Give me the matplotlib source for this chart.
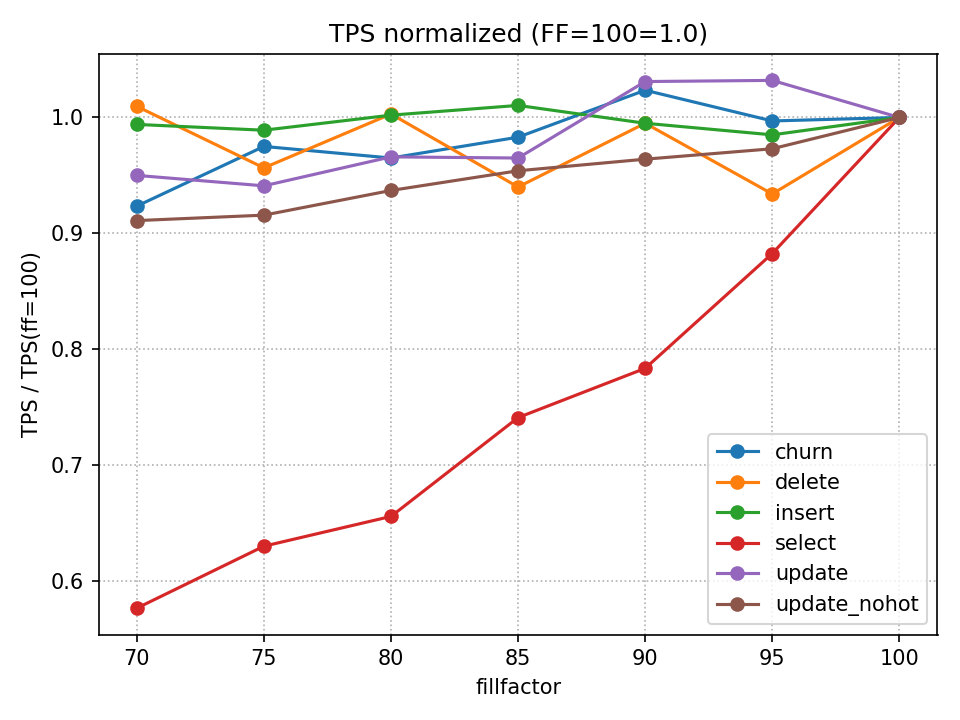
import matplotlib
matplotlib.use('Agg')
import matplotlib.pyplot as plt

fillfactor = [70, 75, 80, 85, 90, 95, 100]

churn = [0.9235, 0.975, 0.965, 0.983, 1.0235, 0.997, 1.0]
delete = [1.0096, 0.9565, 1.003, 0.940, 0.995, 0.934, 1.0]
insert = [0.994, 0.989, 1.002, 1.0104, 0.995, 0.985, 1.0]
select = [0.5765, 0.630, 0.6557, 0.741, 0.7835, 0.8826, 1.0]
update = [0.950, 0.941, 0.966, 0.965, 1.031, 1.032, 1.0]
update_nohot = [0.911, 0.9157, 0.937, 0.954, 0.964, 0.973, 1.0]

series = [
    ('churn', churn),
    ('delete', delete),
    ('insert', insert),
    ('select', select),
    ('update', update),
    ('update_nohot', update_nohot),
]

fig, ax = plt.subplots(figsize=(6.4, 4.8), dpi=150)
for name, vals in series:
    ax.plot(fillfactor, vals, marker='o', label=name)

ax.set_title('TPS normalized (FF=100=1.0)')
ax.set_xlabel('fillfactor')
ax.set_ylabel('TPS / TPS(ff=100)')
ax.grid(True, linestyle=':')
ax.legend(loc='lower right')
fig.tight_layout()
fig.savefig('out.png', dpi=150)
